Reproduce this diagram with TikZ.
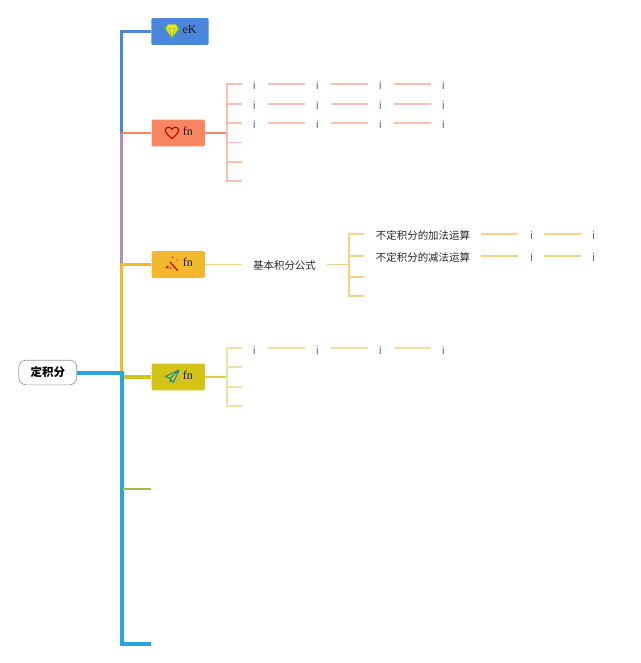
\documentclass[tikz,border=0pt]{standalone}
\usepackage{fontspec}
\setmainfont{Liberation Serif}
\newfontfamily\cjkf{Noto Sans CJK SC}
\newfontfamily\lsans{Liberation Sans}
\definecolor{cBlue}{HTML}{4A86DC}
\definecolor{cSalmon}{HTML}{F98660}
\definecolor{cOrange}{HTML}{F3B92E}
\definecolor{cYellow}{HTML}{D4C418}
\definecolor{cSky}{HTML}{2AA4DC}
\definecolor{cOlive}{HTML}{A8B848}
\definecolor{cPurple}{HTML}{AB90B6}
\definecolor{cLSalmon}{HTML}{F9C0B2}
\definecolor{cLOrange}{HTML}{F4D183}
\definecolor{cLYellow}{HTML}{EAE3A2}
\tikzset{
  root/.style={draw=black!40,line width=0.5pt,rounded corners=5.5pt,minimum width=43.5pt,minimum height=18.5pt,inner sep=0pt,fill=white,font=\cjkf\bfseries\fontsize{8.6pt}{10pt}\selectfont},
  topic/.style={rounded corners=1pt,inner sep=0pt,minimum height=20pt},
  flab/.style={inner sep=0pt,font=\fontsize{9pt}{10pt}\selectfont,text=black!90},
  itxt/.style={inner sep=0pt,font=\lsans\fontsize{8.5pt}{10pt}\selectfont,text=black!60},
  ctxt/.style={inner sep=0pt,font=\cjkf\fontsize{7.85pt}{9pt}\selectfont,text=black!85},
  trunk/.style={line join=miter,line cap=butt},
  twig/.style={line width=1pt},
}
\begin{document}
\begin{tikzpicture}[x=0.75pt,y=-0.75pt]
\useasboundingbox (0,0) rectangle (640,663);
% nodes
\node[root] (R) at (47.8,372.5) {定积分};
\node[topic,fill=cBlue,minimum width=42.8pt] (T1) at (180,31.5) {};
\node[topic,fill=cSalmon,minimum width=40pt] (T2) at (178.3,133) {};
\node[topic,fill=cOrange,minimum width=40pt] (T3) at (178.3,264.5) {};
\node[topic,fill=cYellow,minimum width=40pt] (T4) at (178.3,377) {};
\coordinate (J) at (121.5,372.5);
\coordinate (T5) at (151,489);
\coordinate (T6) at (151,644);
% trunk segments
\draw[cOrange,line width=2.2pt,trunk] (121.5,264) -- (121.5,372);
\draw[cPurple,line width=2.2pt,trunk] (121.5,264) -- (121.5,133);
\draw[cBlue,line width=2.4pt,trunk] (121.5,133) -- (121.5,31.5) -- (T1.west);
\draw[cSalmon,line width=1.2pt] (121.5,133) -- (T2.west);
\draw[cOrange,line width=2pt] (121,264.5) -- (T3.west);
\draw[cYellow,line width=2.4pt] (122,377) -- (T4.west);
\draw[cSky,line width=3pt,trunk] (R.east) -- (J) -- (121.5,644) -- (T6);
\draw[cOlive,line width=1.1pt] (123,489) -- (T5);
% salmon branch
\coordinate (B2) at (227,133);
\draw[cSalmon,line width=0.9pt] (T2.east) -- (B2);
\draw[cLSalmon,twig] (242,84) -- (227,84) -- (227,181) -- (242,181);
\foreach \y in {104,123,142.5,162} \draw[cLSalmon,twig] (227,\y) -- (242,\y);
\foreach \y/\yy/\n in {84/85.5/a,104/105.5/b,123/124.5/c}{
  \foreach \x/\k in {254.5/1,317.5/2,380.5/3,443.5/4}
    \node[itxt] (i\n\k) at (\x,\yy) {i};
  \foreach \p/\q in {1/2,2/3,3/4}
    \draw[cLSalmon,twig] ([xshift=10.2pt]i\n\p.center |- 0,\y) -- ([xshift=-9.6pt]i\n\q.center |- 0,\y);
}
% orange branch
\node[ctxt] (K) at (284.5,266) {基本积分公式};
\draw[cLOrange,twig] (T3.east) -- (242,264.5);
\draw[cLOrange,twig] (327,264.5) -- (349,264.5);
\draw[cLOrange,twig] (364,234) -- (349,234) -- (349,296) -- (364,296);
\foreach \y in {256,277} \draw[cLOrange,twig] (349,\y) -- (364,\y);
\node[ctxt] (A) at (423,235.5) {不定积分的加法运算};
\node[ctxt] (S) at (423,257.5) {不定积分的减法运算};
\foreach \n/\y in {A/234,S/256}{
  \node[itxt] (m\n) at (531.5,\y+1.5) {i};
  \node[itxt] (e\n) at (593.5,\y+1.5) {i};
  \draw[cLOrange,twig] (481,\y) -- (518,\y);
  \draw[cLOrange,twig] (544,\y) -- (581,\y);
}
% yellow branch
\draw[cYellow!80,line width=0.9pt] (T4.east) -- (227,377);
\draw[cLYellow,twig] (242,348) -- (227,348) -- (227,406) -- (242,406);
\foreach \y in {367,387} \draw[cLYellow,twig] (227,\y) -- (242,\y);
\foreach \x/\k in {254.5/1,317.5/2,380.5/3,443.5/4}
  \node[itxt] (y\k) at (\x,350) {i};
\foreach \p/\q in {1/2,2/3,3/4}
  \draw[cLYellow,twig] ([xshift=10.2pt]y\p.center |- 0,348) -- ([xshift=-9.6pt]y\q.center |- 0,348);
% labels
\node[flab] (L1) at (189.5,29.5) {eK};
\node[flab] (L2) at (187.8,131) {fn};
\node[flab] (L3) at (187.8,262.3) {fn};
\node[flab] (L4) at (187.8,374.8) {fn};
% gem icon
\begin{scope}[shift={(172,31)}]
\fill[yellow!90!green] (-7,-2.5) -- (-4,-6.5) -- (4,-6.5) -- (7,-2.5) -- (0,7) -- cycle;
\draw[green!50!black!60,line width=0.35pt,line join=round] (-7,-2.5) -- (-4,-6.5) -- (4,-6.5) -- (7,-2.5) -- (0,7) -- cycle (-7,-2.5) -- (7,-2.5) (-3,-2.5) -- (0,7) -- (3,-2.5);
\end{scope}
% heart icon
\draw[red!75!black,line width=0.8pt,line join=round] (172,138.5) .. controls (166,134) and (165,131) .. (165.5,129.5) .. controls (166.5,126.5) and (170.5,126.5) .. (172,129.5) .. controls (173.5,126.5) and (177.5,126.5) .. (178.5,129.5) .. controls (179,131) and (178,134) .. (172,138.5) -- cycle;
% wand icon
\begin{scope}[shift={(172,264.5)}]
\fill[red!90!black] (-4.5,2.5) circle (1.3) (-1.5,3.5) circle (0.9) (-6,3) circle (0.7) (0.5,-7) circle (0.8) (5,-4.5) circle (0.7);
\draw[red!90!black,line width=1pt,line cap=round] (-2,-2.5) -- (5.5,6);
\end{scope}
% plane icon
\begin{scope}[shift={(172,377)}]
\draw[teal!70!cSky,line width=0.7pt,line join=round] (7,-7) -- (-6.5,-0.5) -- (-2,1.5) -- (1.5,5.5) -- cycle (7,-7) -- (-2,1.5) -- (-2,5) -- (0,3.5);
\end{scope}
\end{tikzpicture}
\end{document}
